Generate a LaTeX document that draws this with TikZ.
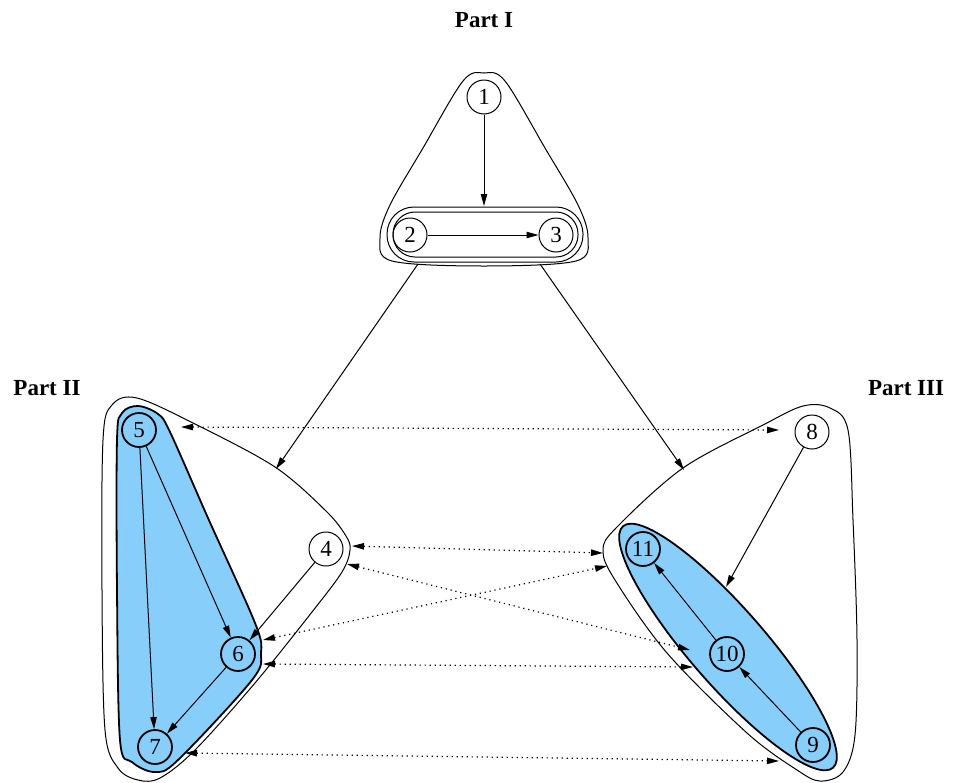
\documentclass[tikz,border=0pt]{standalone}
\usepackage{fontspec}
\setmainfont{Liberation Serif}
\usetikzlibrary{arrows.meta}
\definecolor{hullblue}{RGB}{135,206,250}
\begin{document}
\begin{tikzpicture}[x=0.5pt,y=0.5pt,
  every node/.style={font=\fontsize{11.5}{13}\selectfont},
  vert/.style={circle,draw,line width=0.5pt,minimum size=17pt,inner sep=0pt},
  bvert/.style={vert,line width=0.9pt},
  hull/.style={draw,line width=0.5pt},
  bhull/.style={draw,line width=0.9pt,fill=hullblue},
  edge/.style={line width=0.5pt,-{Triangle[length=6pt,width=3.2pt]}},
  link/.style={line width=0.6pt,dash pattern=on 0.6pt off 1.9pt,{Triangle[length=6pt,width=3.2pt]}-{Triangle[length=6pt,width=3.2pt]}},
  title/.style={font=\fontsize{11.5}{13}\selectfont\bfseries}]
\useasboundingbox (0,0) rectangle (953,-782);

% titles
\node[title] (t1) at (484,-20) {Part I};
\node[title] (t2) at (47,-388) {Part II};
\node[title] (t3) at (906,-388) {Part III};

% Part I hulls
\draw[hull] plot[smooth cycle,tension=0.55] coordinates {
 (484,-73) (505,-81) (545,-148) (578,-205) (588,-238) (576,-261) (484,-266)
 (392,-261) (380,-238) (390,-205) (423,-148) (463,-81)};
\draw[hull,rounded corners=13.5pt] (387,-207) rectangle (583,-262);
\draw[hull,rounded corners=11pt] (393,-212) rectangle (578,-257);

% Part II hulls
\draw[hull] plot[smooth cycle,tension=0.55] coordinates {
 (137,-398) (195,-424) (275,-467) (326,-511) (346,-536) (350,-550) (342,-572)
 (312,-612) (255,-683) (195,-750) (160,-778) (138,-780) (118,-768) (105,-730)
 (102,-590) (103,-440) (112,-405)};
\draw[bhull] plot[smooth cycle,tension=0.55] coordinates {
 (138,-406) (158,-414) (170,-432) (208,-518) (255,-623) (261,-653) (252,-680)
 (178,-760) (155,-772) (132,-762) (120,-740) (117,-590) (117,-440) (122,-413)};

% Part III hulls
\draw[hull] plot[smooth cycle,tension=0.55] coordinates {
 (803,-406) (830,-408) (848,-430) (853,-520) (857,-640) (855,-735) (843,-772)
 (820,-781) (797,-770) (747,-733) (667,-653) (615,-580) (603,-550) (617,-527)
 (683,-468) (763,-425)};
\draw[bhull,rotate around={-49:(728,-647)}] (728,-647) ellipse (160 and 38);

% vertices
\node[vert]  (n1)  at (484,-97)  {1};
\node[vert]  (n2)  at (410,-235) {2};
\node[vert]  (n3)  at (556,-235) {3};
\node[vert]  (n4)  at (326,-549) {4};
\node[bvert] (n5)  at (139,-430) {5};
\node[bvert] (n6)  at (238,-654) {6};
\node[bvert] (n7)  at (155,-747) {7};
\node[vert]  (n8)  at (812,-432) {8};
\node[bvert] (n9)  at (813,-745) {9};
\node[bvert] (n10) at (727,-654) {10};
\node[bvert] (n11) at (643,-549) {11};

% hull anchor points
\coordinate (c23top) at (484,-206);
\coordinate (cIa) at (418,-264);
\coordinate (cIb) at (540,-264);
\coordinate (cIIin) at (276,-469);
\coordinate (cIIIin) at (684,-470);
\coordinate (cB3) at (726,-587);
\coordinate (a1) at (181,-427);  \coordinate (a2) at (779,-430);
\coordinate (b1) at (352,-546);  \coordinate (b2) at (603,-553);
\coordinate (c1) at (347,-564);  \coordinate (c2) at (690,-650);
\coordinate (d1) at (263,-640);  \coordinate (d2) at (607,-566);
\coordinate (e1) at (263,-664);  \coordinate (e2) at (693,-667);
\coordinate (f1) at (185,-753);  \coordinate (f2) at (779,-761);

% solid edges
\draw[edge] (n1) -- (c23top);
\draw[edge] (n2) -- (n3);
\draw[edge] (cIa) -- (cIIin);
\draw[edge] (cIb) -- (cIIIin);
\draw[edge] (n4) -- (n6);
\draw[edge] (n5) -- (n6);
\draw[edge] (n5) -- (n7);
\draw[edge] (n6) -- (n7);
\draw[edge] (n8) -- (cB3);
\draw[edge] (n10) -- (n11);
\draw[edge] (n9) -- (n10);

% dotted links
\draw[link] (a1) -- (a2);
\draw[link] (b1) -- (b2);
\draw[link] (c1) -- (c2);
\draw[link] (d1) -- (d2);
\draw[link] (e1) -- (e2);
\draw[link] (f1) -- (f2);
\end{tikzpicture}
\end{document}
